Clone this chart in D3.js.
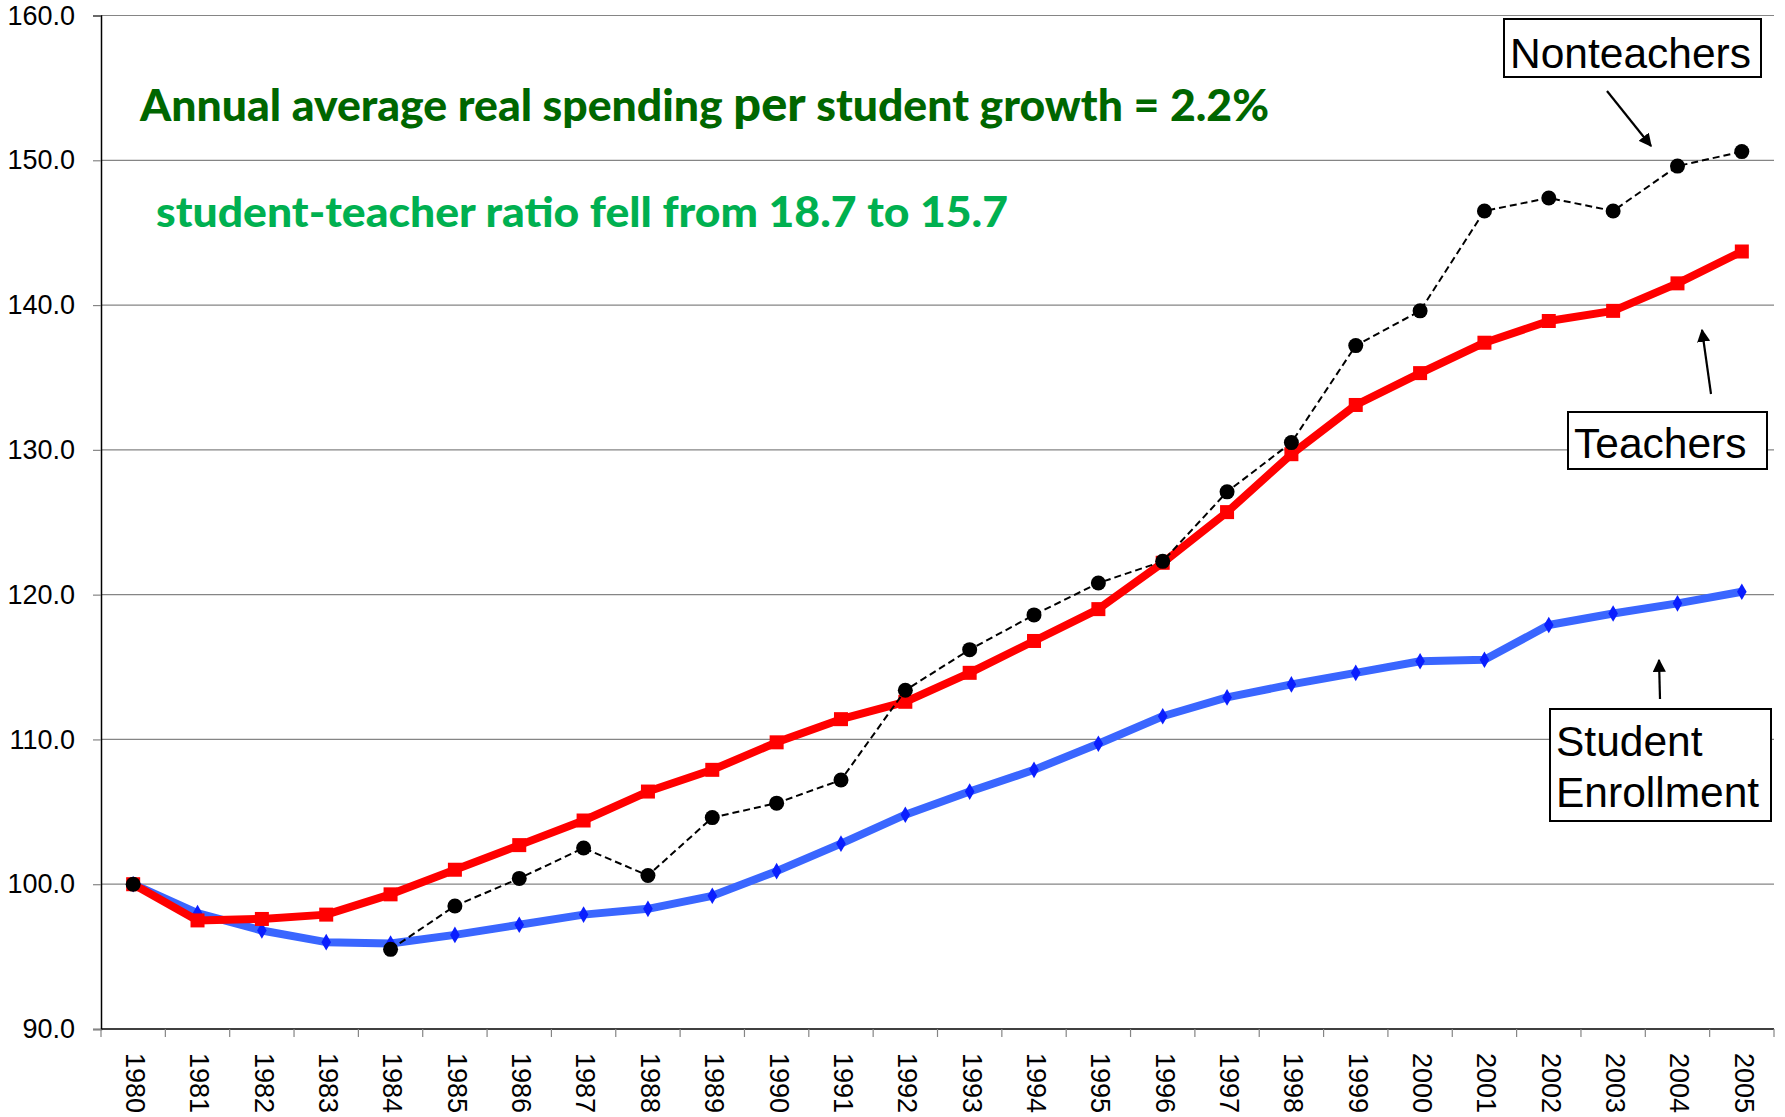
<!DOCTYPE html>
<html>
<head>
<meta charset="utf-8">
<script src="https://cdn.jsdelivr.net/npm/d3@7"></script>
<style>
  body { margin: 0; background: #fff; }
  .tick text { font-family: Arial, "Liberation Sans", sans-serif; }
</style>
</head>
<body>
<div id="chart"></div>
<script>
// Data (index, 1980 = 100)
const years = d3.range(1980, 2006).map(String);

const enrollment = [100.0, 98.0, 96.8, 96.0, 95.9, 96.5, 97.2, 97.9, 98.3, 99.2,
  100.9, 102.8, 104.8, 106.4, 107.9, 109.7, 111.6, 112.9, 113.8, 114.6,
  115.4, 115.5, 117.9, 118.7, 119.4, 120.2];

const teachers = [100.0, 97.5, 97.6, 97.9, 99.3, 101.0, 102.7, 104.4, 106.4, 107.9,
  109.8, 111.4, 112.6, 114.6, 116.8, 119.0, 122.2, 125.7, 129.7, 133.1,
  135.3, 137.4, 138.9, 139.6, 141.5, 143.7];

// 1981-1983 not shown for nonteachers
const nonteachers = [100.0, null, null, null, 95.5, 98.5, 100.4, 102.5, 100.6, 104.6,
  105.6, 107.2, 113.4, 116.2, 118.6, 120.8, 122.3, 127.1, 130.5, 137.2,
  139.6, 146.5, 147.4, 146.5, 149.6, 150.6];

const yTicks = [90, 100, 110, 120, 130, 140, 150, 160];

const W = 1785, H = 1117;
const margin = {left: 101, right: 11, top: 15.5, bottom: 88};

const svg = d3.select("#chart").append("svg")
    .attr("width", W)
    .attr("height", H);

const x = d3.scaleBand()
    .domain(years)
    .range([margin.left, W - margin.right])
    .padding(0);

const y = d3.scaleLinear()
    .domain([90, 160])
    .range([H - margin.bottom, margin.top]);

const cx = d => x(d) + x.bandwidth() / 2;

// gridlines
svg.append("g")
  .selectAll("line")
  .data(yTicks.slice(1))
  .enter().append("line")
    .attr("x1", margin.left)
    .attr("x2", W - margin.right)
    .attr("y1", d => y(d))
    .attr("y2", d => y(d))
    .attr("stroke", "#858585")
    .attr("stroke-width", 1.2);

// y axis
const yAxis = svg.append("g")
    .attr("transform", `translate(${margin.left},0)`)
    .call(d3.axisLeft(y).tickValues(yTicks).tickFormat(d3.format(".1f")).tickSize(8).tickPadding(18));
yAxis.select(".domain").attr("stroke", "#000").attr("stroke-width", 1.5);
yAxis.selectAll(".tick line").attr("stroke", "#858585").attr("stroke-width", 1.2);
yAxis.selectAll(".tick text").attr("font-size", 27).attr("fill", "#000");

// x axis: ticks at band boundaries
const xAxis = svg.append("g")
    .attr("transform", `translate(0,${H - margin.bottom})`);
xAxis.append("line")
    .attr("x1", margin.left).attr("x2", W - margin.right)
    .attr("stroke", "#000").attr("stroke-width", 1.5);
xAxis.selectAll("line.tk")
  .data(years.concat(["end"]))
  .enter().append("line")
    .attr("class", "tk")
    .attr("x1", (d, i) => margin.left + i * x.bandwidth())
    .attr("x2", (d, i) => margin.left + i * x.bandwidth())
    .attr("y1", 0).attr("y2", 8)
    .attr("stroke", "#858585").attr("stroke-width", 1.2);
xAxis.selectAll("text")
  .data(years)
  .enter().append("text")
    .attr("transform", d => `translate(${cx(d)},24) rotate(90)`)
    .attr("dominant-baseline", "middle")
    .attr("font-family", "Arial, 'Liberation Sans', sans-serif")
    .attr("font-size", 27)
    .text(d => d);

const line = d3.line()
    .defined(d => d[1] != null)
    .x(d => cx(d[0]))
    .y(d => y(d[1]));

const pairs = arr => years.map((yr, i) => [yr, arr[i]]);

// Student enrollment
svg.append("path")
    .datum(pairs(enrollment))
    .attr("d", line)
    .attr("fill", "none")
    .attr("stroke", "#3a66ff")
    .attr("stroke-width", 8)
    .attr("stroke-linejoin", "round");
svg.append("g").selectAll("path")
  .data(pairs(enrollment))
  .enter().append("path")
    .attr("d", d3.symbol(d3.symbolDiamond, 80))
    .attr("transform", d => `translate(${cx(d[0])},${y(d[1])})`)
    .attr("fill", "#0a1eff");

// Teachers
svg.append("path")
    .datum(pairs(teachers))
    .attr("d", line)
    .attr("fill", "none")
    .attr("stroke", "#ff0000")
    .attr("stroke-width", 8)
    .attr("stroke-linejoin", "round");
svg.append("g").selectAll("rect")
  .data(pairs(teachers))
  .enter().append("rect")
    .attr("x", d => cx(d[0]) - 7)
    .attr("y", d => y(d[1]) - 7)
    .attr("width", 14).attr("height", 14)
    .attr("fill", "#ff0000");

// Nonteachers
svg.append("path")
    .datum(pairs(nonteachers))
    .attr("d", line)
    .attr("fill", "none")
    .attr("stroke", "#000")
    .attr("stroke-width", 2)
    .attr("stroke-dasharray", "7,4");
svg.append("g").selectAll("circle")
  .data(pairs(nonteachers).filter(d => d[1] != null))
  .enter().append("circle")
    .attr("cx", d => cx(d[0]))
    .attr("cy", d => y(d[1]))
    .attr("r", 7.5)
    .attr("fill", "#000");

// headline texts
const t1 = svg.append("text")
    .attr("x", 140).attr("y", 121)
    .attr("font-family", "Lato, 'Open Sans', sans-serif")
    .attr("font-weight", "900")
    .attr("font-size", 43)
    .attr("fill", "#006600")
    .attr("textLength", 1129)
    .attr("lengthAdjust", "spacingAndGlyphs");
t1.append("tspan").text("Annual average real spending ");
t1.append("tspan").attr("font-size", 47).text("per");
t1.append("tspan").text(" student growth = 2.2%");

svg.append("text")
    .attr("x", 156).attr("y", 227)
    .attr("font-family", "Lato, 'Open Sans', sans-serif")
    .attr("font-weight", "900")
    .attr("font-size", 42)
    .attr("fill", "#00b050")
    .attr("textLength", 852)
    .attr("lengthAdjust", "spacingAndGlyphs")
    .text("student-teacher ratio fell from 18.7 to 15.7");

// label boxes with arrows
const labels = [
  {lines: ["Nonteachers"], box: [1504, 19, 257, 58], tx: 1510, ty: [68],
   arrow: [1607, 91, 1651, 146]},
  {lines: ["Teachers"], box: [1568, 412, 199, 57], tx: 1574, ty: [458],
   arrow: [1711, 394, 1702, 330]},
  {lines: ["Student", "Enrollment"], box: [1550, 709, 221, 112], tx: 1556, ty: [756, 807],
   arrow: [1660, 699, 1659, 660]}
];

svg.append("defs").append("marker")
    .attr("id", "arrowhead")
    .attr("viewBox", "0 0 10 10")
    .attr("refX", 9).attr("refY", 5)
    .attr("markerWidth", 6).attr("markerHeight", 6)
    .attr("markerUnits", "strokeWidth")
    .attr("orient", "auto")
  .append("path")
    .attr("d", "M0,0 L10,5 L0,10 z")
    .attr("fill", "#000");

const lab = svg.append("g").selectAll("g")
  .data(labels)
  .enter().append("g");

lab.append("rect")
    .attr("x", d => d.box[0]).attr("y", d => d.box[1])
    .attr("width", d => d.box[2]).attr("height", d => d.box[3])
    .attr("fill", "#fff")
    .attr("stroke", "#000")
    .attr("stroke-width", 2);

lab.each(function(d) {
  const g = d3.select(this);
  d.lines.forEach((t, i) => {
    g.append("text")
      .attr("x", d.tx).attr("y", d.ty[i])
      .attr("font-family", "Arial, 'Liberation Sans', sans-serif")
      .attr("font-size", 42.5)
      .text(t);
  });
});

lab.append("line")
    .attr("x1", d => d.arrow[0]).attr("y1", d => d.arrow[1])
    .attr("x2", d => d.arrow[2]).attr("y2", d => d.arrow[3])
    .attr("stroke", "#000")
    .attr("stroke-width", 2.2)
    .attr("marker-end", "url(#arrowhead)");
</script>
</body>
</html>
